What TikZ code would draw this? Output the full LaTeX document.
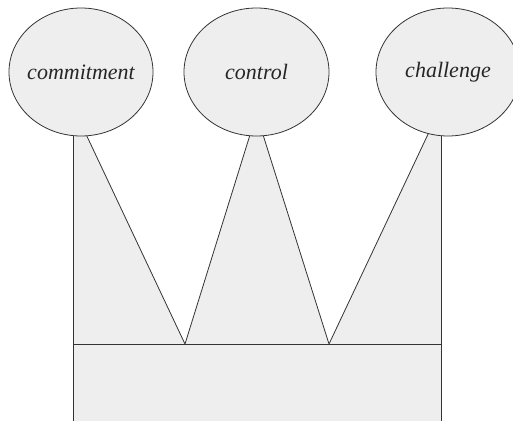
\documentclass[tikz,border=0pt]{standalone}
\usepackage{fontspec}
\setmainfont{Liberation Serif}
\usetikzlibrary{shapes.geometric}
\definecolor{fillgray}{HTML}{EEEEEE}
\definecolor{linegray}{HTML}{333333}
\tikzset{
  ball/.style={ellipse, draw=linegray, fill=fillgray, line width=0.8pt,
    minimum width=144pt, minimum height=128pt, inner sep=0pt},
  balltext/.style={font=\fontsize{22}{26}\selectfont\itshape, inner sep=0pt, text=black!85},
  edge/.style={draw=linegray, line width=0.8pt}
}
\begin{document}
\begin{tikzpicture}[x=1pt,y=-1pt]
\useasboundingbox (0,0) rectangle (513,420);
\clip (0,0) rectangle (513,420);
% crown coordinates
\coordinate (l0) at (73,130);
\coordinate (l1) at (84,130);
\coordinate (v1) at (185,344);
\coordinate (m0) at (251.5,130);
\coordinate (m1) at (261.5,130);
\coordinate (v2) at (329,344);
\coordinate (r0) at (430,130);
\coordinate (r1) at (441,130);
\coordinate (bl) at (73,430);
\coordinate (br) at (441,430);
\coordinate (hl) at (73,344);
\coordinate (hr) at (441,344);
% crown fill
\fill[fillgray] (l0) -- (l1) -- (v1) -- (m0) -- (m1) -- (v2) -- (r0) -- (r1) -- (br) -- (bl) -- cycle;
% crown lines
\path[edge] (l0) -- (bl);
\path[edge] (r1) -- (br);
\path[edge] (l1) -- (v1) -- (m0);
\path[edge] (m1) -- (v2) -- (r0);
\path[edge] (hl) -- (hr);
% ellipses
\node[ball] (e1) at (81,72) {};
\node[ball, minimum width=145pt] (e2) at (256.5,72) {};
\node[ball] (e3) at (448,72) {};
\node[balltext] (t1) at (e1.center) {commitment};
\node[balltext] (t2) at (e2.center) {control};
\node[balltext] (t3) at (e3.center) {challenge};
\end{tikzpicture}
\end{document}
